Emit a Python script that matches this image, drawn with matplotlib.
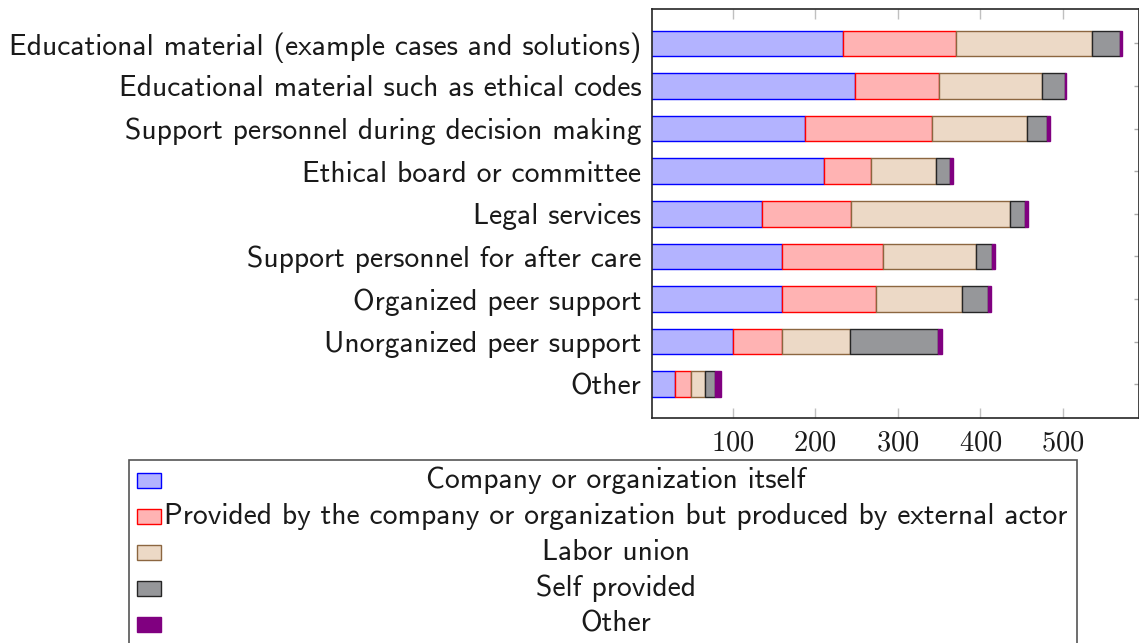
import numpy as np
import matplotlib.pyplot as plt
from matplotlib.patches import Rectangle

categories = ['Educational material (example cases and solutions)',
              'Educational material such as ethical codes',
              'Support personnel during decision making',
              'Ethical board or committee',
              'Legal services',
              'Support personnel for after care',
              'Organized peer support',
              'Unorganized peer support',
              'Other']

series_names = ['Company or organization itself',
                'Provided by the company or organization but produced by external actor',
                'Labor union',
                'Self provided',
                'Other']

company = [234, 248, 188, 211, 136, 160, 160, 101, 30]
external = [136, 102, 153, 57, 107, 122, 114, 59, 19]
union = [165, 125, 115, 78, 193, 113, 104, 82, 18]
self_provided = [34, 27, 25, 17, 18, 19, 31, 107, 12]
other = [3, 2, 3, 4, 3, 4, 4, 4, 7]

x_ticks = [100, 200, 300, 400, 500]

faces = ['#b3b3ff', '#ffb3b3', '#ecd9c6', '#96979a', '#800080']
edges = ['#0000ff', '#ff0000', '#8c6640', '#262626', '#800080']

plt.rcParams['mathtext.fontset'] = 'cm'

W, H = 1139, 643
fig = plt.figure(figsize=(W / 100, H / 100), dpi=100)
ax = fig.add_axes([652.3 / W, 1 - 418.3 / H, (W - 652.3) / W, (418.3 - 9.3) / H])

sans = ['cmss10', 'DejaVu Sans']
txt_color = '#1a1a1a'
fs = 21.3

y = np.arange(1, len(categories) + 1)
left = np.zeros(len(categories))
for vals, fc, ec in zip([company, external, union, self_provided, other], faces, edges):
    ax.barh(y, vals, left=left, height=0.6, color=fc, edgecolor=ec, linewidth=1.0)
    left += np.array(vals)

ax.set_xlim(2.7, 592)
ax.set_ylim(9.8, 0.2)

ax.set_yticks(y)
ax.set_yticklabels(categories, family=sans, fontsize=fs, color=txt_color)
ax.set_xticks(x_ticks)
ax.set_xticklabels([r'$%d$' % t for t in x_ticks], fontsize=20.5, color=txt_color)

ax.tick_params(axis='x', which='both', direction='in', length=7.5, width=1,
               color='#c0c0c0', top=True, bottom=True, pad=7)
ax.tick_params(axis='y', which='both', direction='in', length=3.5, width=1,
               color='#aaaaaa', left=False, right=True, pad=8)
for s in ax.spines.values():
    s.set_color('#262626')
    s.set_linewidth(1.2)

# legend drawn by hand so that the texts are centred like the original
lx0, lx1, ly0 = 129, 1077, 460
fig.add_artist(Rectangle((lx0 / W, -0.2), (lx1 - lx0) / W, 0.2 + 1 - ly0 / H,
                         transform=fig.transFigure, facecolor='none',
                         edgecolor='#555555', linewidth=1.2))
row_y = [480, 516, 552, 588, 624]
for name, fc, ec, ry in zip(series_names, faces, edges, row_y):
    fig.add_artist(Rectangle((137 / W, 1 - (ry + 7.5) / H), 24 / W, 15 / H,
                             transform=fig.transFigure, facecolor=fc,
                             edgecolor=ec, linewidth=1.0))
    fig.text(616 / W, 1 - ry / H, name, ha='center', va='center',
             family=sans, fontsize=fs, color=txt_color)

fig.savefig('out.png', dpi=100)
